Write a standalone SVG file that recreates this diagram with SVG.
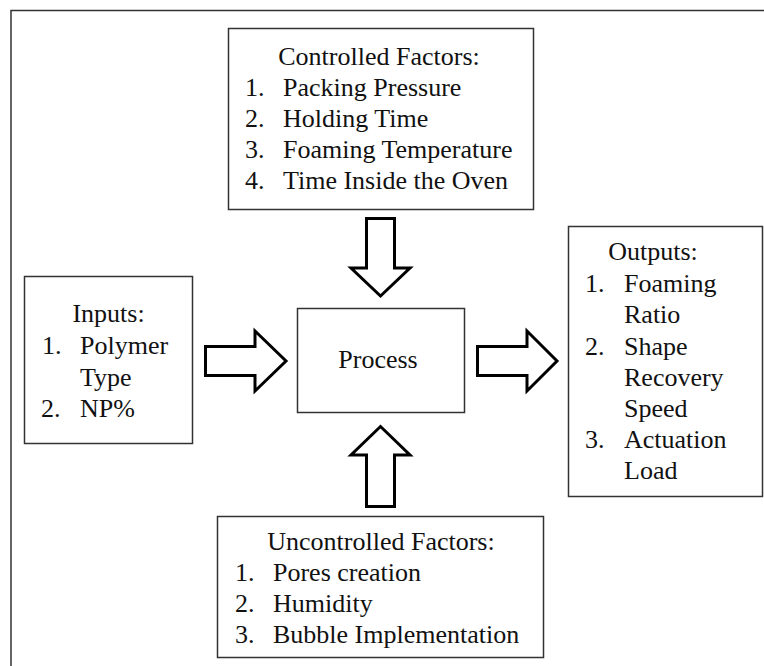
<svg xmlns="http://www.w3.org/2000/svg" width="764" height="666" viewBox="0 0 764 666">
  <style>
    .frame { fill: none; stroke: #333; stroke-width: 1.5; }
    .box { fill: #fff; stroke: #333; stroke-width: 1.5; }
    .arrow { fill: #fff; stroke: #000; stroke-width: 3; stroke-linejoin: miter; }
    text { font-family: 'Liberation Serif', 'Times New Roman', serif; font-size: 26px; fill: #111; }
    .mid { text-anchor: middle; }
  </style>
  <rect width="764" height="666" fill="#fff"/>
  <!-- outer frame: only top and left edges are visible -->
  <path class="frame" d="M11,666 V10.5 H764"/>

  <g id="connectors">
    <path id="arrow-controlled" class="arrow" d="M366.5,218.5 H394.5 V268 H410 L380.5,296 L351,268 H366.5 Z"/>
    <path id="arrow-uncontrolled" class="arrow" d="M366.5,506.5 H394.5 V455 H410 L380.5,426.5 L351,455 H366.5 Z"/>
    <path id="arrow-inputs" class="arrow" d="M205.5,346.5 H255 V331 L286,361 L255,391 V375.5 H205.5 Z"/>
    <path id="arrow-outputs" class="arrow" d="M477.5,346.5 H527 V331 L557,361 L527,391 V375.5 H477.5 Z"/>
  </g>

  <g id="controlled">
    <rect class="box" x="228.5" y="28.5" width="305" height="181"/>
    <text class="mid" x="379" y="65">Controlled Factors:</text>
    <text x="245" y="96">1.</text><text x="283" y="96">Packing Pressure</text>
    <text x="245" y="127">2.</text><text x="283" y="127">Holding Time</text>
    <text x="245" y="158">3.</text><text x="283" y="158">Foaming Temperature</text>
    <text x="245" y="189">4.</text><text x="283" y="189">Time Inside the Oven</text>
  </g>

  <g id="inputs">
    <rect class="box" x="24.5" y="276.5" width="168" height="167"/>
    <text class="mid" x="108.5" y="322">Inputs:</text>
    <text x="42" y="354">1.</text><text x="80" y="354">Polymer</text>
    <text x="80" y="386">Type</text>
    <text x="41" y="417">2.</text><text x="80" y="417">NP%</text>
  </g>

  <g id="process">
    <rect class="box" x="297.5" y="308.5" width="167" height="104"/>
    <text class="mid" x="378" y="368">Process</text>
  </g>

  <g id="outputs">
    <rect class="box" x="568.5" y="226.5" width="194" height="270"/>
    <text class="mid" x="653" y="260">Outputs:</text>
    <text x="585" y="292">1.</text><text x="624" y="292">Foaming</text>
    <text x="624" y="323">Ratio</text>
    <text x="585" y="355">2.</text><text x="624" y="355">Shape</text>
    <text x="624" y="386">Recovery</text>
    <text x="624" y="417">Speed</text>
    <text x="585" y="448">3.</text><text x="624" y="448">Actuation</text>
    <text x="624" y="479">Load</text>
  </g>

  <g id="uncontrolled">
    <rect class="box" x="217.5" y="516.5" width="326" height="141"/>
    <text class="mid" x="381" y="550">Uncontrolled Factors:</text>
    <text x="235" y="581">1.</text><text x="273" y="581">Pores creation</text>
    <text x="235" y="612">2.</text><text x="273" y="612">Humidity</text>
    <text x="235" y="643">3.</text><text x="273" y="643">Bubble Implementation</text>
  </g>
</svg>
